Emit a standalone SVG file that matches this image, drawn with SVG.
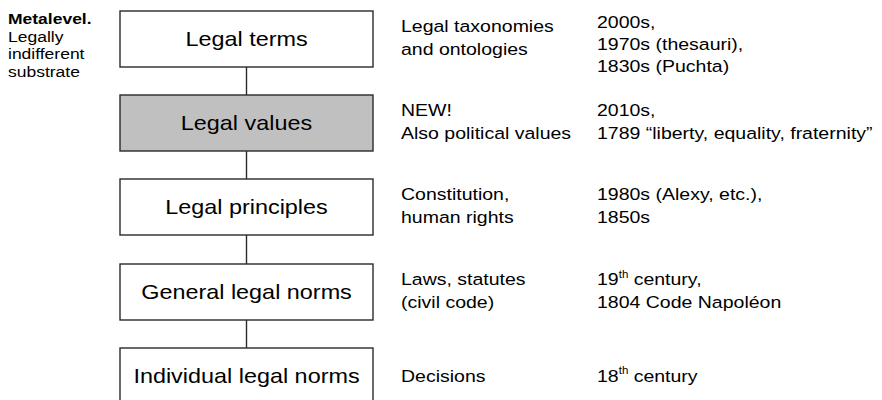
<svg xmlns="http://www.w3.org/2000/svg" width="882" height="400" viewBox="0 0 882 400">
<style>
text{font-family:"Liberation Sans",Arial,Helvetica,sans-serif;fill:#000}
.box{fill:#fff;stroke:#2a2a2a;stroke-width:1.4}
.box.hl{fill:#c0c0c0}
.bt{font-size:23.4px;text-anchor:middle}
.ct{font-size:19.5px}
.lt{font-size:17.5px}
.b{font-weight:bold}
.sup{font-size:11.5px}
.conn line{stroke:#2a2a2a;stroke-width:1.4}
</style>
<rect width="882" height="400" fill="#fff"/>
<g id="metalevel">
<text class="lt" transform="matrix(1 0 0 0.88 8 24)"><tspan class="b" x="0" y="0">Metalevel.</tspan><tspan x="0" dy="20.1">Legally</tspan><tspan x="0" dy="20.1">indifferent</tspan><tspan x="0" dy="20.1">substrate</tspan></text>
</g>
<g class="conn" id="connectors">
<line x1="246.5" y1="67" x2="246.5" y2="95"/>
<line x1="246.5" y1="151" x2="246.5" y2="179"/>
<line x1="246.5" y1="235" x2="246.5" y2="264"/>
<line x1="246.5" y1="320" x2="246.5" y2="348"/>
</g>
<g id="legal-terms">
<rect class="box" x="120" y="11" width="253" height="56"/>
<text class="bt" transform="matrix(1 0 0 0.88 246.5 45.7)">Legal terms</text>
<text class="ct" transform="matrix(1 0 0 0.88 401 32.3)"><tspan x="0" y="0">Legal taxonomies</tspan><tspan x="0" dy="25.5">and ontologies</tspan></text>
<text class="ct" transform="matrix(1 0 0 0.88 597 27.7)"><tspan x="0" y="0">2000s,</tspan><tspan x="0" dy="25.2">1970s (thesauri),</tspan><tspan x="0" dy="25.2">1830s (Puchta)</tspan></text>
</g>
<g id="legal-values">
<rect class="box hl" x="120" y="95" width="253" height="56"/>
<text class="bt" transform="matrix(1 0 0 0.88 246.5 129.7)">Legal values</text>
<text class="ct" transform="matrix(1 0 0 0.88 401 116.3)"><tspan x="0" y="0">NEW!</tspan><tspan x="0" dy="25.5">Also political values</tspan></text>
<text class="ct" transform="matrix(1 0 0 0.88 597 116.3)"><tspan x="0" y="0">2010s,</tspan><tspan x="0" dy="25.5">1789 “liberty, equality, fraternity”</tspan></text>
</g>
<g id="legal-principles">
<rect class="box" x="120" y="179" width="253" height="56"/>
<text class="bt" transform="matrix(1 0 0 0.88 246.5 213.5)">Legal principles</text>
<text class="ct" transform="matrix(1 0 0 0.88 401 200.3)"><tspan x="0" y="0">Constitution,</tspan><tspan x="0" dy="25.5">human rights</tspan></text>
<text class="ct" transform="matrix(1 0 0 0.88 597 200.3)"><tspan x="0" y="0">1980s (Alexy, etc.),</tspan><tspan x="0" dy="25.5">1850s</tspan></text>
</g>
<g id="general-legal-norms">
<rect class="box" x="120" y="264" width="253" height="56"/>
<text class="bt" transform="matrix(1 0 0 0.88 246.5 298.5)">General legal norms</text>
<text class="ct" transform="matrix(1 0 0 0.88 401 285.3)"><tspan x="0" y="0">Laws, statutes</tspan><tspan x="0" dy="25.5">(civil code)</tspan></text>
<text class="ct" transform="matrix(1 0 0 0.88 597 285.3)"><tspan x="0" y="0">19<tspan class="sup" dy="-8">th</tspan><tspan dy="8"> century,</tspan></tspan><tspan x="0" dy="25.5">1804 Code Napoléon</tspan></text>
</g>
<g id="individual-legal-norms">
<rect class="box" x="120" y="348" width="253" height="56"/>
<text class="bt" transform="matrix(1 0 0 0.88 246.5 382.7)">Individual legal norms</text>
<text class="ct" transform="matrix(1 0 0 0.88 401 381.5)">Decisions</text>
<text class="ct" transform="matrix(1 0 0 0.88 597 381.5)">18<tspan class="sup" dy="-8">th</tspan><tspan dy="8"> century</tspan></text>
</g>
</svg>
